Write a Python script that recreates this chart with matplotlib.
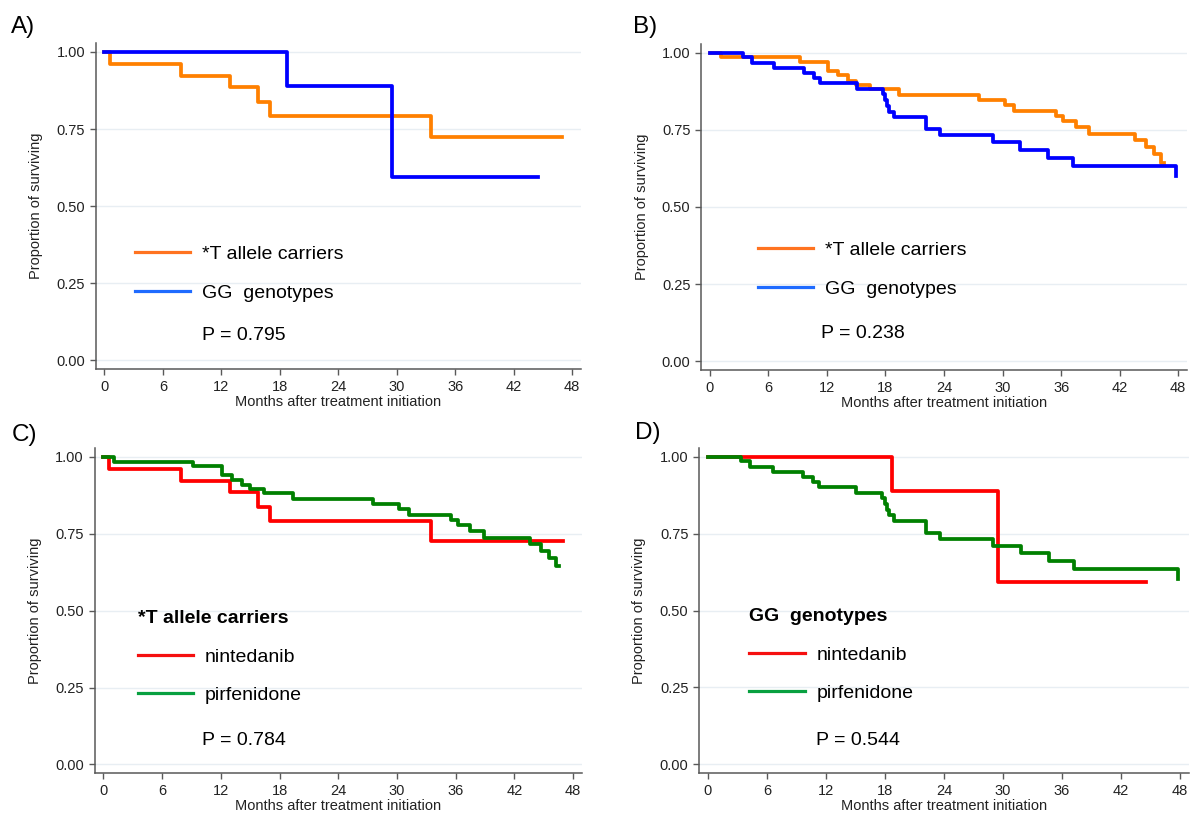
import matplotlib
matplotlib.use("Agg")
import matplotlib.pyplot as plt
from matplotlib.lines import Line2D

plt.rcParams['font.family'] = ['Liberation Sans', 'DejaVu Sans']

# Kaplan-Meier curves (months, proportion surviving)
nint_T_t = [0, 0.6, 7.9, 12.9, 15.8, 17.0, 33.5, 47.0]
nint_T_s = [1.0, 0.962, 0.923, 0.885, 0.838, 0.792, 0.725, 0.725]

nint_GG_t = [0, 18.7, 29.5, 44.5]
nint_GG_s = [1.0, 0.889, 0.593, 0.593]

pirf_T_t = [0, 1.1, 9.2, 12.1, 13.1, 14.2, 15.0, 16.4, 19.4, 27.6, 30.2,
            31.2, 35.5, 36.2, 37.5, 38.9, 43.6, 44.7, 45.5, 46.2, 46.5]
pirf_T_s = [1.0, 0.985, 0.971, 0.940, 0.926, 0.909, 0.895, 0.881, 0.864, 0.846, 0.830,
            0.811, 0.794, 0.777, 0.758, 0.737, 0.718, 0.695, 0.672, 0.644, 0.644]

pirf_GG_t = [0, 3.4, 4.3, 6.6, 9.7, 10.7, 11.3, 15.1, 17.7, 18.0, 18.2,
             18.4, 18.9, 22.2, 23.6, 29.0, 31.8, 34.7, 37.2, 47.8]
pirf_GG_s = [1.0, 0.985, 0.967, 0.951, 0.934, 0.918, 0.901, 0.882, 0.865, 0.847, 0.828,
             0.809, 0.791, 0.752, 0.733, 0.709, 0.686, 0.660, 0.634, 0.602]

x_ticks = [0, 6, 12, 18, 24, 30, 36, 42, 48]
y_ticks = [0.0, 0.25, 0.5, 0.75, 1.0]
p_values = ["P = 0.795", "P = 0.238", "P = 0.784", "P = 0.544"]
panel_labels = ["A)", "B)", "C)", "D)"]

ORANGE, BLUE, RED, GREEN = "#ff8000", "#0000ff", "#ff0000", "#008000"
ORANGE_KEY, BLUE_KEY, RED_KEY, GREEN_KEY = "#ff7320", "#1f6bff", "#f50f0f", "#08a040"

W, H = 1197, 815
fig = plt.figure(figsize=(W / 100, H / 100), dpi=100)


def px_axes(left, top, right, bottom):
    return fig.add_axes([left / W, 1 - bottom / H, (right - left) / W, (bottom - top) / H])


def style(ax):
    ax.set_xlim(-0.9, 48.9)
    ax.set_ylim(-0.028, 1.028)
    ax.set_xticks(x_ticks)
    ax.set_yticks(y_ticks)
    ax.set_yticklabels(["%.2f" % v for v in y_ticks])
    for s in ["top", "right"]:
        ax.spines[s].set_visible(False)
    for s in ["left", "bottom"]:
        ax.spines[s].set_color("#595959")
        ax.spines[s].set_linewidth(1.1)
    ax.tick_params(direction="out", length=4.6, width=1.0, color="#595959",
                   labelsize=10.5, labelcolor="#222222", pad=3)
    ax.grid(axis="y", color="#e8eef3", linewidth=1.0)
    ax.set_axisbelow(True)
    ax.set_xlabel("Months after treatment initiation", fontsize=10.5, labelpad=1,
                  color="#222222")
    ax.set_ylabel("Proportion of surviving", fontsize=10.5, color="#222222")
    ax.yaxis.set_label_coords(-0.108, 0.5)


def add_legend(ax, x0, y_first, labels, colors, title=None):
    handles = [Line2D([], [], color=c, lw=2.3) for c in colors]
    leg = ax.legend(handles, labels, loc="upper left",
                    bbox_to_anchor=(x0, y_first), bbox_transform=ax.transData,
                    frameon=False, fontsize=14, handlelength=2.85, handletextpad=0.62,
                    labelspacing=1.08, borderpad=0, borderaxespad=0,
                    title=title, title_fontproperties={"weight": "bold", "size": 14},
                    alignment="left")
    return leg


boxes = [(95.7, 43.3, 581, 369), (701, 44, 1187, 370),
         (94.5, 448.3, 582, 773), (699, 448, 1189, 773)]
axes = [px_axes(*b) for b in boxes]
for ax in axes:
    style(ax)

lw = 2.7
# A) nintedanib, by genotype
axes[0].step(nint_T_t, nint_T_s, where="post", color=ORANGE, lw=lw)
axes[0].step(nint_GG_t, nint_GG_s, where="post", color=BLUE, lw=lw)
add_legend(axes[0], 3.1, 0.373, ["*T allele carriers", "GG  genotypes"], [ORANGE_KEY, BLUE_KEY])
axes[0].text(10.0, 0.081, p_values[0], fontsize=14, va="center")

# B) pirfenidone, by genotype
axes[1].step(pirf_T_t, pirf_T_s, where="post", color=ORANGE, lw=lw)
axes[1].step(pirf_GG_t, pirf_GG_s, where="post", color=BLUE, lw=lw)
add_legend(axes[1], 4.9, 0.388, ["*T allele carriers", "GG  genotypes"], [ORANGE_KEY, BLUE_KEY])
axes[1].text(11.4, 0.09, p_values[1], fontsize=14, va="center")

# C) *T allele carriers, by drug
axes[2].step(nint_T_t, nint_T_s, where="post", color=RED, lw=lw)
axes[2].step(pirf_T_t, pirf_T_s, where="post", color=GREEN, lw=lw)
add_legend(axes[2], 3.5, 0.502, ["nintedanib", "pirfenidone"], [RED_KEY, GREEN_KEY],
           title="*T allele carriers")
axes[2].text(10.1, 0.078, p_values[2], fontsize=14, va="center")

# D) GG genotypes, by drug
axes[3].step(nint_GG_t, nint_GG_s, where="post", color=RED, lw=lw)
axes[3].step(pirf_GG_t, pirf_GG_s, where="post", color=GREEN, lw=lw)
add_legend(axes[3], 4.2, 0.508, ["nintedanib", "pirfenidone"], [RED_KEY, GREEN_KEY],
           title="GG  genotypes")
axes[3].text(11.0, 0.078, p_values[3], fontsize=14, va="center")

# panel letters
for lab, (x, y) in zip(panel_labels, [(10.8, 33), (632.6, 33.3), (11.5, 440.7), (634.6, 439.3)]):
    fig.text(x / W, 1 - y / H, lab, fontsize=17.5, va="baseline", ha="left")

fig.savefig("out.png", dpi=100)
